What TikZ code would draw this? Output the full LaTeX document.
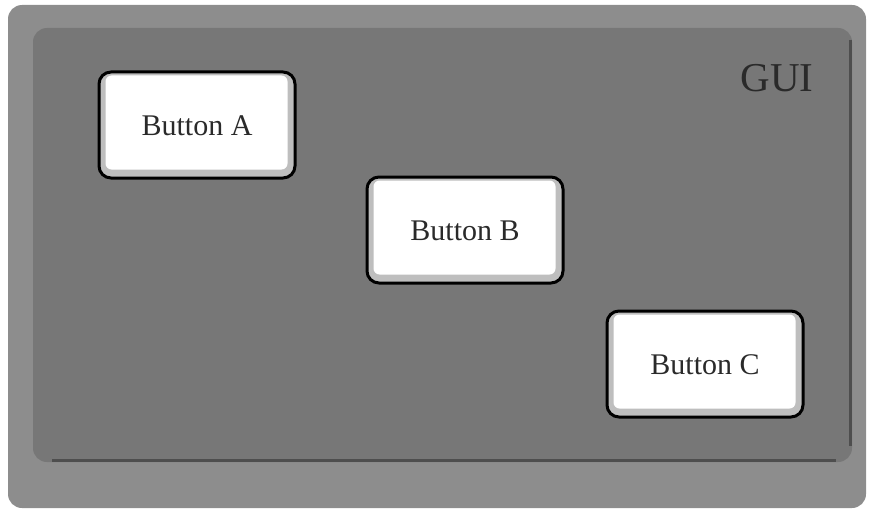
\documentclass[tikz,border=0pt]{standalone}
\usepackage{fontspec}
\setmainfont{Liberation Serif}
\usepackage{xcolor}
\usetikzlibrary{calc}
\definecolor{frame}{HTML}{8D8D8D}
\definecolor{panel}{HTML}{777777}
\definecolor{shade}{HTML}{4E4E4E}
\definecolor{ring}{HTML}{BEBEBE}
\definecolor{ink}{HTML}{2A2A2A}
\tikzset{
  outer/.style={fill=frame, rounded corners=14pt},
  win/.style={fill=panel, rounded corners=14pt},
  edge/.style={draw=shade, line width=3pt},
  btn/.style={draw=black, line width=3pt, fill=ring, rounded corners=12pt,
    minimum width=196pt, minimum height=106pt, text=ink,
    font=\fontsize{30}{30}\selectfont},
  face/.style={fill=white, rounded corners=6pt},
  title/.style={text=ink, font=\fontsize{41}{41}\selectfont}
}

\begin{document}
\begin{tikzpicture}[x=1pt, y=-1pt]
  \useasboundingbox (0,0) rectangle (869,516);
  % window body and panel
  \fill[outer] (8,5) rectangle (866,508);
  \fill[win] (33,28) rectangle (852,462);
  \draw[edge] (850,40) -- (850,446);
  \draw[edge] (52,460) -- (836,460);
  \node[title] (gui) at (777,78) {GUI};
  % the three buttons
  \node[btn] (btnA) at (197,125) {};
  \node[btn] (btnB) at (465,230) {};
  \node[btn] (btnC) at (705,364) {};
  \foreach \b/\t in {btnA/Button A, btnB/Button B, btnC/Button C} {
    \fill[face] ($(\b.north west)+(8,5)$) rectangle ($(\b.south east)+(-9,-10)$);
    \node[text=ink, font=\fontsize{30}{30}\selectfont] (\b-txt) at ($(\b.center)+(0,1)$) {\t};
  }
\end{tikzpicture}
\end{document}
